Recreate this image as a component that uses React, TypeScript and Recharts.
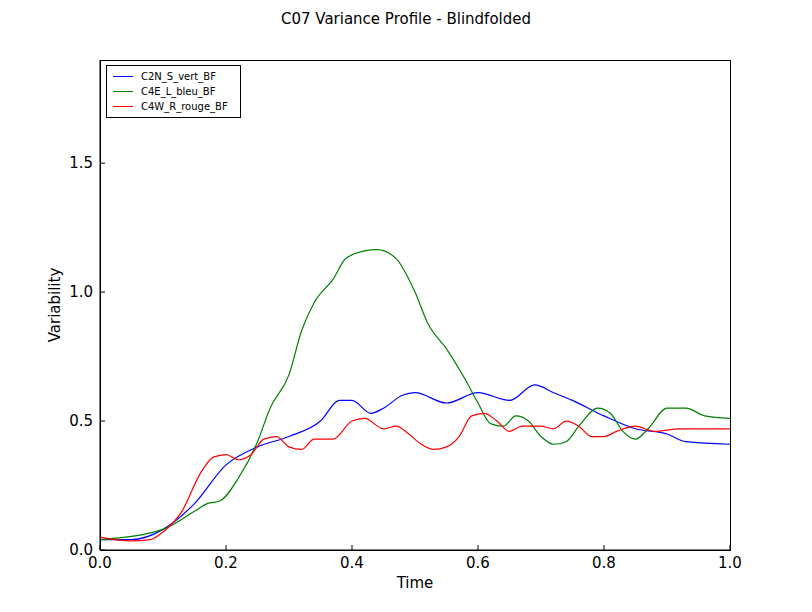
import { LineChart, Line, XAxis, YAxis } from 'recharts';

const blueX = [0, 0.05, 0.1, 0.15, 0.2, 0.25, 0.3, 0.35, 0.38, 0.4, 0.43, 0.45, 0.48, 0.5, 0.55, 0.6, 0.65, 0.69, 0.72, 0.75, 0.8, 0.85, 0.9, 0.93, 1.0];
const blueY = [0.04, 0.04, 0.08, 0.18, 0.33, 0.4, 0.44, 0.5, 0.58, 0.58, 0.53, 0.55, 0.6, 0.61, 0.57, 0.61, 0.58, 0.64, 0.61, 0.58, 0.52, 0.47, 0.45, 0.42, 0.41];
const greenX = [0, 0.1, 0.15, 0.17, 0.19, 0.22, 0.25, 0.27, 0.3, 0.32, 0.34, 0.37, 0.39, 0.42, 0.44, 0.47, 0.5, 0.52, 0.55, 0.58, 0.6, 0.62, 0.64, 0.66, 0.68, 0.7, 0.72, 0.74, 0.76, 0.79, 0.81, 0.83, 0.85, 0.87, 0.9, 0.93, 0.96, 1.0];
const greenY = [0.04, 0.08, 0.15, 0.18, 0.19, 0.28, 0.42, 0.55, 0.68, 0.85, 0.96, 1.05, 1.13, 1.16, 1.165, 1.13, 1.0, 0.88, 0.78, 0.66, 0.57, 0.49, 0.48, 0.52, 0.5, 0.44, 0.41, 0.42, 0.48, 0.55, 0.53, 0.46, 0.43, 0.47, 0.55, 0.55, 0.52, 0.51];
const redX = [0, 0.05, 0.08, 0.1, 0.13, 0.16, 0.18, 0.2, 0.22, 0.24, 0.26, 0.28, 0.3, 0.32, 0.34, 0.37, 0.4, 0.42, 0.45, 0.47, 0.49, 0.51, 0.53, 0.55, 0.57, 0.59, 0.61, 0.63, 0.65, 0.67, 0.7, 0.72, 0.74, 0.76, 0.78, 0.8, 0.82, 0.85, 0.88, 0.92, 1.0];
const redY = [0.05, 0.035, 0.04, 0.07, 0.15, 0.3, 0.36, 0.37, 0.35, 0.37, 0.43, 0.44, 0.4, 0.39, 0.43, 0.43, 0.5, 0.51, 0.47, 0.48, 0.45, 0.41, 0.39, 0.4, 0.44, 0.52, 0.53, 0.5, 0.46, 0.48, 0.48, 0.47, 0.5, 0.48, 0.44, 0.44, 0.46, 0.48, 0.46, 0.47, 0.47];

const xTicks = [0, 0.2, 0.4, 0.6, 0.8, 1.0];
const yTicks = [0, 0.5, 1.0, 1.5];

const series = [
  { name: 'C2N_S_vert_BF', color: '#0000ff', xs: blueX, ys: blueY },
  { name: 'C4E_L_bleu_BF', color: '#008000', xs: greenX, ys: greenY },
  { name: 'C4W_R_rouge_BF', color: '#ff0000', xs: redX, ys: redY },
];

const font = 'DejaVu Sans, sans-serif';

export default function App() {
  return (
    <div style={{ position: 'absolute', left: 0, top: 0, width: 812, height: 612, background: '#fff', fontFamily: font }}>
      <div style={{ position: 'absolute', top: 10, width: 812, textAlign: 'center', fontSize: 15 }}>
        C07 Variance Profile - Blindfolded
      </div>
      <LineChart width={812} height={612} margin={{ top: 60, right: 82, bottom: 22, left: 40 }}>
        <XAxis type="number" dataKey="x" domain={[0, 1]} ticks={xTicks} allowDataOverflow
          tickFormatter={(v: number) => v.toFixed(1)} height={40} stroke="#000"
          tick={{ fill: '#000', fontSize: 15, fontFamily: font }} tickSize={-5} tickMargin={12}
          label={{ value: 'Time', position: 'insideBottom', offset: 2, fill: '#000', fontSize: 15, fontFamily: font }} />
        <YAxis type="number" domain={[0, 1.9]} ticks={yTicks} allowDataOverflow
          tickFormatter={(v: number) => v.toFixed(1)} width={60} stroke="#000"
          tick={{ fill: '#000', fontSize: 15, fontFamily: font }} tickSize={-5} tickMargin={12}
          label={{ value: 'Variability', angle: -90, position: 'insideLeft', offset: 15, fill: '#000', fontSize: 15, fontFamily: font, style: { textAnchor: 'middle' } }} />
        {series.map((s) => (
          <Line key={s.name} data={s.xs.map((x, i) => ({ x, y: s.ys[i] }))}
            dataKey="y" type="monotone" stroke={s.color} strokeWidth={1.2} dot={false} isAnimationActive={false} />
        ))}
      </LineChart>
      <div style={{ position: 'absolute', left: 100, top: 60, width: 629, height: 489, border: '1px solid #000', pointerEvents: 'none' }} />
      <div style={{ position: 'absolute', left: 106, top: 65, width: 133, border: '1px solid #000', background: '#fff', padding: '3px 0', fontSize: 10 }}>
        {series.map((s) => (
          <div key={s.name} style={{ display: 'flex', alignItems: 'center', height: 15 }}>
            <span style={{ display: 'inline-block', width: 20, borderTop: `1px solid ${s.color}`, margin: '0 8px 0 6px' }} />
            {s.name}
          </div>
        ))}
      </div>
    </div>
  );
}
